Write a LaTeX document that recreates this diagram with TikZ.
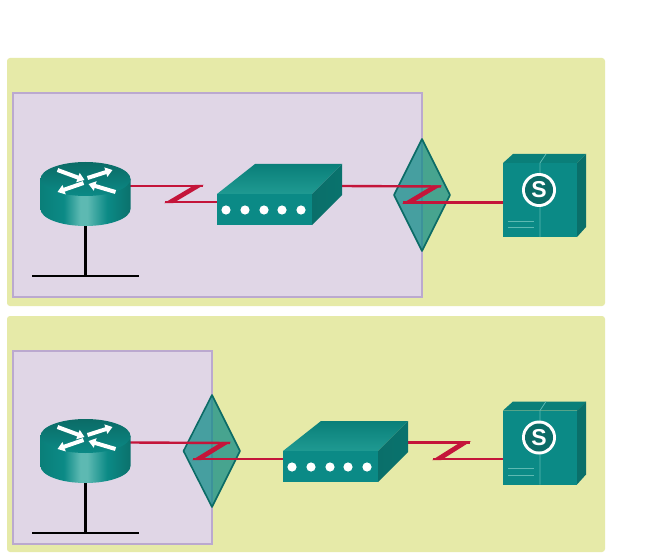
\documentclass[tikz,border=0pt]{standalone}
\usepackage{fontspec}
\setmainfont{Liberation Sans}
\usetikzlibrary{calc,arrows.meta}
\definecolor{panel}{HTML}{E6EAA8}
\definecolor{zone}{HTML}{E0D6E6}
\definecolor{zoneedge}{HTML}{BBA9CF}
\definecolor{serialred}{HTML}{C4153A}
\definecolor{tealfront}{HTML}{0B8A86}
\definecolor{tealtop}{HTML}{0A7F79}
\definecolor{tealside}{HTML}{0A6F6A}
\definecolor{tealdark}{HTML}{0B6B66}
\definecolor{teallight}{HTML}{5DB9B2}
\definecolor{tealbright}{HTML}{1F9A92}
\pgfdeclarehorizontalshading{routerbody}{100bp}{color(0bp)=(tealtop); color(25bp)=(tealtop); color(38bp)=(tealfront); color(47bp)=(teallight); color(51bp)=(teallight); color(62bp)=(tealfront); color(78bp)=(tealdark); color(100bp)=(tealdark)}
\newcommand\seriallinkpath[4]{%
  \fill[zfill] ($(#2)+(-8,-1.2)$) -- ($(#2)+(1,-1.2)$) -- ($(#3)+(8,1.2)$) -- ($(#3)+(-1,1.2)$) -- cycle;
  \draw[seriallink] (#1) -- (#2);
  \draw[seriallink] (#3) -- (#4);}
\tikzset{
  panelbox/.style={fill=panel,rounded corners=3pt,draw=none},
  zonebox/.style={fill=zone,draw=zoneedge,line width=1.6pt},
  lanline/.style={draw=black,line width=2.4pt},
  seriallink/.style={draw=serialred,line width=2.4pt},
  zfill/.style={fill=serialred,draw=none},
  csu/.style={fill=tealfront,fill opacity=.72,draw=tealdark,line width=1.6pt,line join=round},
  arrowmark/.style={draw=white,line width=4pt,-{Triangle[fill=white,width=9.5pt,length=7pt]}},
  dot/.style={fill=white,draw=none},
  pics/router/.style={code={
    \shade[shading=routerbody] (-45,0) -- (-45,30) arc[start angle=180,end angle=360,x radius=45pt,y radius=17pt] -- (45,0) -- cycle;
    \shade[top color=tealdark,bottom color=tealfront] (0,0) ellipse [x radius=45pt,y radius=17pt];
    \draw[arrowmark] (-28,-9) -- (-1,1);
    \draw[arrowmark] (2,-1) -- (27,-9);
    \draw[arrowmark] (-2,4) -- (-28,13);
    \draw[arrowmark] (30,13) -- (3,5);
  }},
  pics/modem/.style={code={
    \shade[top color=tealtop,bottom color=tealbright] (0,0) -- (38,-30) -- (125,-30) -- (95,0) -- cycle;
    \shade[left color=tealside,right color=tealtop!90!black] (95,0) -- (125,-30) -- (125,1) -- (95,31) -- cycle;
    \fill[tealfront] (0,0) rectangle (95,31);
    \foreach \dx in {9,28,47,65,84} \fill[dot] (\dx,16) circle [radius=4.6pt];
  }},
  pics/server/.style={code={
    \fill[tealtop] (0,0) -- (10,-9) -- (83,-9) -- (74,0) -- cycle;
    \fill[tealside] (74,0) -- (83,-9) -- (83,64) -- (74,74) -- cycle;
    \fill[tealfront] (0,0) rectangle (74,74);
    \draw[teallight,line width=.8pt] (37,0) -- (37,74) (37,0) -- (43,-9);
    \draw[teallight,line width=.8pt] (5,58) -- (31,58) (5,64.5) -- (31,64.5);
    \fill[white] (36,27) circle [radius=17pt];
    \fill[tealdark] (36,27) circle [radius=14pt];
    \node[name=\pgfkeysvalueof{/tikz/serverlabel},text=white,font=\bfseries\fontsize{23}{23}\selectfont,inner sep=0pt] at (36,27) {S};
  }},
  serverlabel/.initial=lbl,
}
\begin{document}
\begin{tikzpicture}[x=1pt,y=-1pt]
\useasboundingbox (0,0) rectangle (653,556);
\fill[white] (0,0) rectangle (653,556);
\path[panelbox] (7,58) rectangle (605,306);
\path[panelbox] (7,316) rectangle (605,552);
\path[zonebox] (13,93) rectangle (422,297);
\path[zonebox] (13,351) rectangle (212,544);

% named points
\coordinate (r1) at (85.5,179);
\coordinate (r2) at (85.5,436);
\coordinate (r1foot) at (85.5,226);
\coordinate (r2foot) at (85.5,483);
\coordinate (lan1) at (85.5,276);
\coordinate (lan2) at (85.5,533);
\coordinate (lan1a) at (32,276);
\coordinate (lan1b) at (139,276);
\coordinate (lan2a) at (32,533);
\coordinate (lan2b) at (139,533);
\coordinate (m1) at (217,194);
\coordinate (m2) at (283,451);
\coordinate (s1) at (503,163);
\coordinate (s2) at (503,410.5);
\coordinate (r1port) at (130,186);
\coordinate (z1t) at (203,186);
\coordinate (z1b) at (165,202);
\coordinate (m1in) at (217,202);
\coordinate (m1out) at (342,186);
\coordinate (z2t) at (441,186.5);
\coordinate (z2b) at (403,202.5);
\coordinate (s1in) at (503,202.5);
\coordinate (r2port) at (130,442.5);
\coordinate (z3t) at (230,443);
\coordinate (z3b) at (193,459);
\coordinate (m2in) at (283,459);
\coordinate (m2out) at (408,442.5);
\coordinate (z4t) at (470,442.5);
\coordinate (z4b) at (433,459);
\coordinate (s2in) at (503,459);

% LAN segments
\draw[lanline] (r1foot) -- (lan1);
\draw[lanline] (lan1a) -- (lan1b);
\draw[lanline] (r2foot) -- (lan2);
\draw[lanline] (lan2a) -- (lan2b);

% demarcation diamonds
\path[csu] (422,139) -- (450,195) -- (422,251) -- (394,195) -- cycle;
\path[csu] (212,395) -- (240,451) -- (212,507) -- (183.5,451) -- cycle;

% serial links
\seriallinkpath{r1port}{z1t}{z1b}{m1in}
\seriallinkpath{m1out}{z2t}{z2b}{s1in}
\seriallinkpath{r2port}{z3t}{z3b}{m2in}
\seriallinkpath{m2out}{z4t}{z4b}{s2in}

% devices
\pic at (r1) {router};
\pic at (r2) {router};
\pic at (m1) {modem};
\pic at (m2) {modem};
\pic[serverlabel=lbla] at (s1) {server};
\pic[serverlabel=lblb] at (s2) {server};
\end{tikzpicture}
\end{document}
